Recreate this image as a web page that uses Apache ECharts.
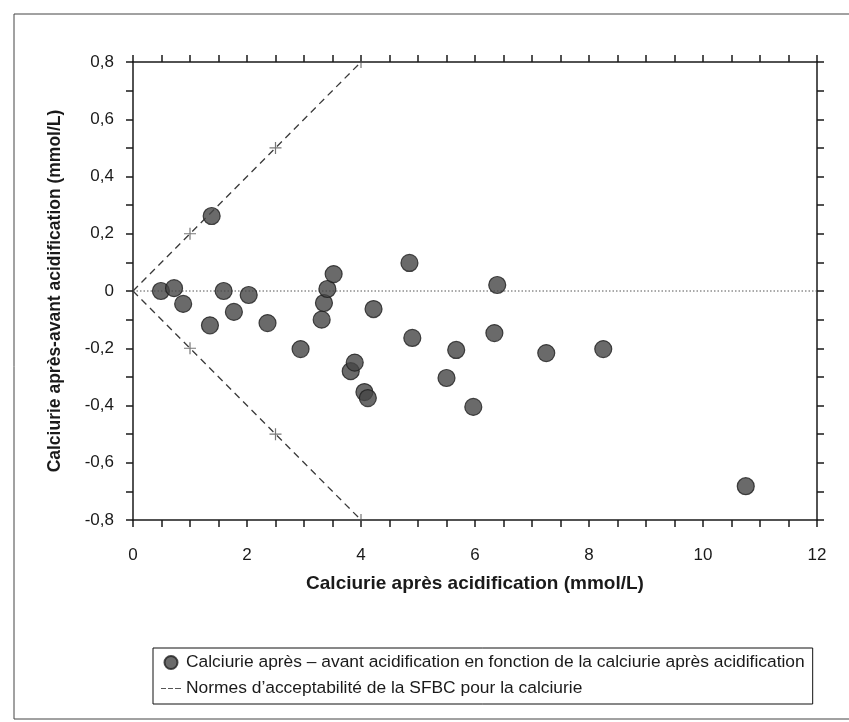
<!DOCTYPE html>
<html>
<head>
<meta charset="utf-8">
<script src="https://cdn.jsdelivr.net/npm/echarts@6/dist/echarts.min.js"></script>
<style>html,body{margin:0;padding:0;background:#fff}#c{width:849px;height:722px}</style>
</head>
<body>
<div id="c"></div>
<script>
// x: Calciurie après acidification (mmol/L)
const pointsX = [0.49, 0.72, 0.88, 1.35, 1.38, 1.59, 1.77, 2.03, 2.36, 2.94, 3.31, 3.35, 3.41, 3.52, 3.82, 3.89, 4.06, 4.12, 4.22, 4.85, 4.90, 5.50, 5.67, 5.97, 6.34, 6.39, 7.25, 8.25, 10.75];
// y: Calciurie après - avant acidification (mmol/L)
const pointsY = [0.00, 0.01, -0.045, -0.12, 0.262, 0.00, -0.073, -0.014, -0.112, -0.203, -0.10, -0.042, 0.007, 0.059, -0.28, -0.25, -0.353, -0.374, -0.063, 0.098, -0.164, -0.304, -0.206, -0.405, -0.147, 0.021, -0.217, -0.203, -0.682];
// SFBC acceptability norm (±20 %)
const normX = [0, 1, 2.5, 4];
const normUpper = [0, 0.2, 0.5, 0.8];
const normLower = [0, -0.2, -0.5, -0.8];
const zeroLineX = [0, 12];
const zeroLineY = [0, 0];
const xTicks = [0, 2, 4, 6, 8, 10, 12];
const yTicks = [-0.8, -0.6, -0.4, -0.2, 0, 0.2, 0.4, 0.6, 0.8];

const nameScatter = 'Calciurie après – avant acidification en fonction de la calciurie après acidification';
const nameNorm = 'Normes d\u2019acceptabilité de la SFBC pour la calciurie';

const fmt = v => String(Math.round(v * 10) / 10).replace('.', ',');
const font = '"Liberation Sans", Arial, Helvetica, sans-serif';
const axisCol = '#1a1a1a';

const chart = echarts.init(document.getElementById('c'), null, {renderer: 'canvas'});
const plus = 'path://M4.5,0 L5.5,0 L5.5,4.5 L10,4.5 L10,5.5 L5.5,5.5 L5.5,10 L4.5,10 L4.5,5.5 L0,5.5 L0,4.5 L4.5,4.5 Z';
const dashIcon = 'path://M0,0 L0.01,0 L0,0.01 Z M0,6 L5,6 L5,7 L0,7 Z M7,6 L12,6 L12,7 L7,7 Z M14,6 L20,6 L20,7 L14,7 Z M20,13 L19.99,13 L20,12.99 Z';

const tickStyle = {color: axisCol, width: 1.5};

chart.setOption({
  backgroundColor: '#fff',
  animation: false,
  textStyle: {fontFamily: font},
  graphic: [{
    type: 'rect', shape: {x: 14, y: 14, width: 900, height: 705},
    style: {fill: 'none', stroke: '#444', lineWidth: 1}, silent: true
  }],
  grid: {left: 133, right: 32, top: 62, bottom: 202, containLabel: false},
  legend: {
    orient: 'vertical', left: 153, top: 648,
    borderColor: '#111', borderWidth: 1, padding: [6, 8, 7, 8],
    itemGap: 9, itemWidth: 20, itemHeight: 13,
    textStyle: {fontFamily: font, fontSize: 17.4, color: '#1a1a1a'},
    data: [{name: nameScatter, icon: 'circle'}, {name: nameNorm, icon: dashIcon, itemStyle: {color: '#555'}}]
  },
  xAxis: [{
    type: 'value', min: 0, max: 12, interval: 2, position: 'bottom',
    name: 'Calciurie après acidification (mmol/L)', nameLocation: 'middle', nameGap: 54,
    nameTextStyle: {fontFamily: font, fontSize: 19, fontWeight: 'bold', color: '#1a1a1a'},
    axisLine: {show: true, onZero: false, lineStyle: tickStyle},
    axisTick: {show: true, inside: false, length: 7, lineStyle: tickStyle},
    minorTick: {show: true, splitNumber: 4, length: 7, lineStyle: tickStyle},
    axisLabel: {formatter: fmt, fontSize: 17, color: '#1a1a1a', margin: 27},
    splitLine: {show: false}
  }, {
    type: 'value', min: 0, max: 12, interval: 2, position: 'top',
    axisLine: {show: true, onZero: false, lineStyle: tickStyle},
    axisTick: {show: true, inside: false, length: 7, lineStyle: tickStyle},
    minorTick: {show: true, splitNumber: 4, length: 7, lineStyle: tickStyle},
    axisLabel: {show: false}, splitLine: {show: false}
  }],
  yAxis: [{
    type: 'value', min: -0.8, max: 0.8, interval: 0.2, position: 'left',
    name: 'Calciurie après-avant acidification (mmol/L)', nameLocation: 'middle', nameGap: 69,
    nameTextStyle: {fontFamily: font, fontSize: 17.5, fontWeight: 'bold', color: '#1a1a1a'},
    axisLine: {show: true, onZero: false, lineStyle: tickStyle},
    axisTick: {show: true, inside: false, length: 7, lineStyle: tickStyle},
    minorTick: {show: true, splitNumber: 2, length: 7, lineStyle: tickStyle},
    axisLabel: {formatter: fmt, fontSize: 17, color: '#1a1a1a', margin: 19},
    splitLine: {show: false}
  }, {
    type: 'value', min: -0.8, max: 0.8, interval: 0.2, position: 'right',
    axisLine: {show: true, onZero: false, lineStyle: tickStyle},
    axisTick: {show: true, inside: false, length: 7, lineStyle: tickStyle},
    minorTick: {show: true, splitNumber: 2, length: 7, lineStyle: tickStyle},
    axisLabel: {show: false}, splitLine: {show: false}
  }],
  series: [{
    name: 'zero', type: 'line', xAxisIndex: 0, yAxisIndex: 0,
    data: zeroLineX.map((x, i) => [x, zeroLineY[i]]),
    symbol: 'none', lineStyle: {color: '#555', width: 1, type: [1.5, 2]}, silent: true, z: 1
  }, {
    name: nameNorm, type: 'line', xAxisIndex: 0, yAxisIndex: 0,
    data: normX.map((x, i) => [x, normUpper[i]]),
    symbol: 'none', itemStyle: {color: '#444'},
    lineStyle: {color: '#3a3a3a', width: 1.3, type: [7, 5]}, z: 2
  }, {
    name: nameNorm, type: 'line', xAxisIndex: 0, yAxisIndex: 0,
    data: normX.map((x, i) => [x, normLower[i]]),
    symbol: 'none', itemStyle: {color: '#444'},
    lineStyle: {color: '#3a3a3a', width: 1.3, type: [7, 5]}, z: 2
  }, {
    name: 'marks', type: 'scatter', xAxisIndex: 0, yAxisIndex: 0,
    data: normX.slice(1).map((x, i) => [x, normUpper[i + 1]]).concat(normX.slice(1).map((x, i) => [x, normLower[i + 1]])),
    symbol: plus, symbolSize: 12, itemStyle: {color: '#555'}, z: 3
  }, {
    name: nameScatter, type: 'scatter', xAxisIndex: 0, yAxisIndex: 0,
    data: pointsX.map((x, i) => [x, pointsY[i]]),
    symbol: 'circle', symbolSize: 17,
    itemStyle: {color: '#454545', borderColor: '#1e1e1e', borderWidth: 1.2}, z: 5
  }]
});
</script>
</body>
</html>
